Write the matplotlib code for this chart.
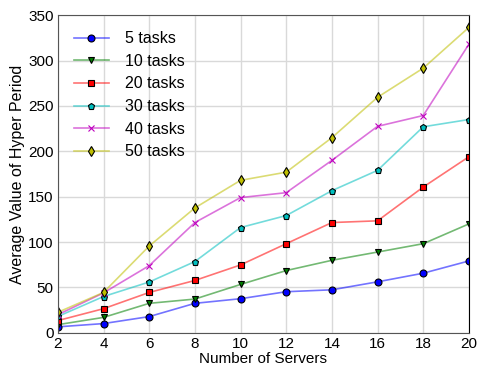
import matplotlib
matplotlib.use('Agg')
import matplotlib.pyplot as plt

plt.rcParams['font.family'] = ['Liberation Sans', 'DejaVu Sans']

servers = [2, 4, 6, 8, 10, 12, 14, 16, 18, 20]
tasks_5 = [6.6, 10.2, 17.9, 32.5, 37.6, 45.3, 47.4, 56.2, 65.7, 79.2]
tasks_10 = [9, 17, 32.5, 37.2, 53.3, 68.6, 79.9, 89, 98.2, 120]
tasks_20 = [13.5, 26.6, 44.5, 57.7, 74.8, 98.2, 121.5, 123.4, 160.6, 194]
tasks_30 = [18, 40, 56, 78.5, 116, 129.2, 156.6, 179, 227, 235]
tasks_40 = [20, 44, 74, 121.5, 149, 154.4, 190, 227.5, 239.4, 318]
tasks_50 = [22.6, 44.5, 95.6, 137.6, 168, 177, 215, 259.5, 291.6, 336.5]

series = [tasks_5, tasks_10, tasks_20, tasks_30, tasks_40, tasks_50]
labels = ['5 tasks', '10 tasks', '20 tasks', '30 tasks', '40 tasks', '50 tasks']
colors = [(0, 0, 1), (0, 0.5, 0), (1, 0, 0), (0, 0.75, 0.75), (0.75, 0, 0.75), (0.75, 0.75, 0)]
markers = ['o', 'v', 's', 'p', 'x', 'd']

fig = plt.figure(figsize=(4.78, 3.69), dpi=100)
ax = fig.add_axes([0.121, 0.098, 0.860, 0.861])

for vals, lab, c, m in zip(series, labels, colors, markers):
    ax.plot(servers, vals, color=c + (0.55,), marker=m, markersize=5,
            markerfacecolor=c, markeredgecolor='k' if m != 'x' else c,
            markeredgewidth=0.8, linewidth=1.2, label=lab)

ax.set_xlim(2, 20)
ax.set_ylim(0, 350)
ax.set_xticks(servers)
ax.set_yticks(range(0, 351, 50))
ax.grid(True, color='#d9d9d9', linewidth=1)
ax.set_axisbelow(True)
ax.tick_params(labelsize=11, length=0, pad=3)
ax.set_xlabel('Number of Servers', fontsize=11, labelpad=1)
ax.set_ylabel('Average Value of Hyper Period', fontsize=11.5, labelpad=2)
for s in ['top', 'left']:
    ax.spines[s].set_color('#555555')
ax.spines['right'].set_color('k')
ax.spines['bottom'].set_color('#555555')

ax.legend(loc='upper left', frameon=False, fontsize=11.5, handlelength=2.2,
          labelspacing=0.48, borderaxespad=0.6, handletextpad=1.0)

fig.savefig('out.png', dpi=100)
